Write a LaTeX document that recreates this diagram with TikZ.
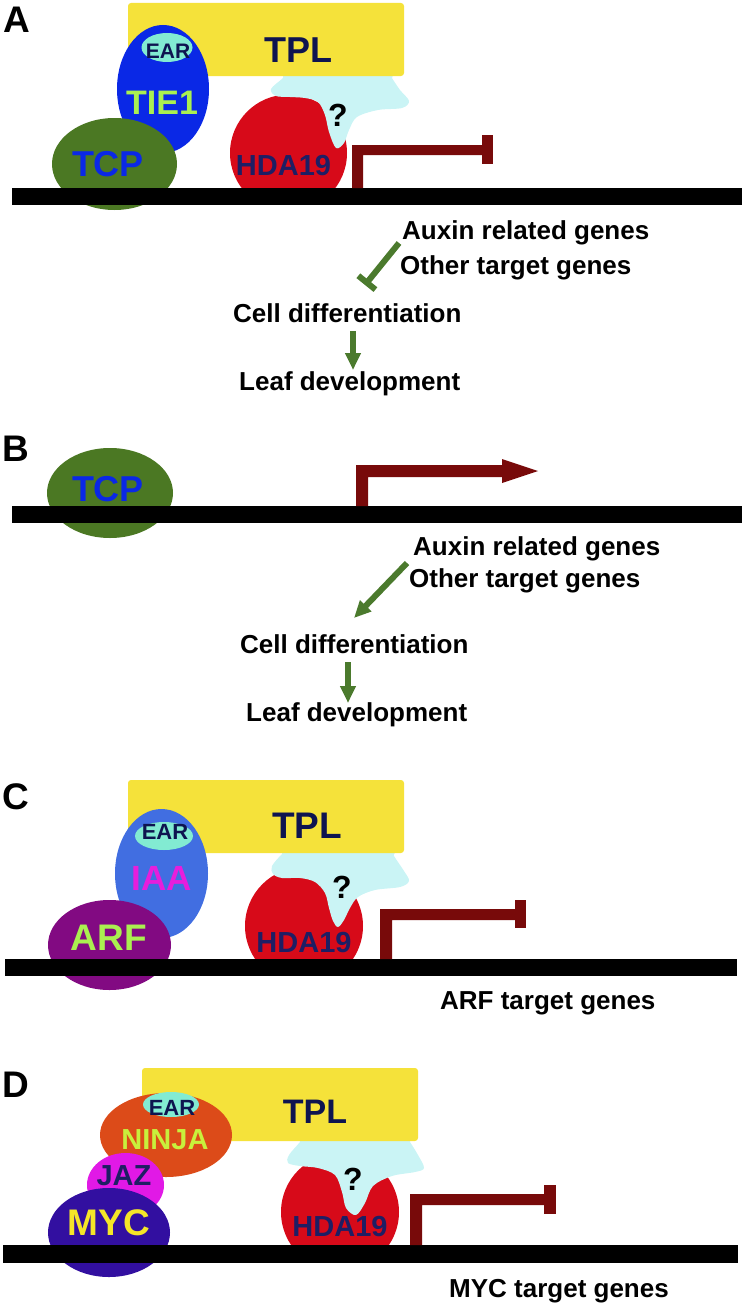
\documentclass[tikz,border=0pt]{standalone}
\usepackage{fontspec}
\setmainfont{Liberation Sans}
\usetikzlibrary{arrows.meta}
\definecolor{tplY}{HTML}{F5E23A}
\definecolor{tieB}{HTML}{0A28E6}
\definecolor{earC}{HTML}{82EBD2}
\definecolor{navyT}{HTML}{0E1450}
\definecolor{limeT}{HTML}{AAF050}
\definecolor{tcpG}{HTML}{4B7823}
\definecolor{hdaR}{HTML}{D70A19}
\definecolor{hdaT}{HTML}{1E1E64}
\definecolor{blobC}{HTML}{CAF4F5}
\definecolor{promR}{HTML}{780A0A}
\definecolor{arrowG}{HTML}{4B7A2D}
\definecolor{iaaB}{HTML}{416EE1}
\definecolor{iaaT}{HTML}{E61EDC}
\definecolor{arfP}{HTML}{820A82}
\definecolor{ninO}{HTML}{DC4B19}
\definecolor{ninT}{HTML}{C8F03C}
\definecolor{jazM}{HTML}{E119E6}
\definecolor{mycI}{HTML}{320FA0}
\definecolor{mycT}{HTML}{F5E628}
\begin{document}
\begin{tikzpicture}[x=1pt,y=-1pt,
  lbl/.style={inner sep=0pt, anchor=base west, font=\bfseries\fontsize{26}{30}\selectfont},
  ptxt/.style={inner sep=0pt, anchor=center, font=\bfseries\fontsize{#1}{#1}\selectfont},
  panel/.style={inner sep=0pt, anchor=center, font=\bfseries\fontsize{37}{37}\selectfont},
  inhib/.style={draw=arrowG, line width=6pt, -{Bar[width=22pt]}},
  act/.style={draw=arrowG, line width=6pt, -{Triangle[width=15pt,length=17pt]}},
  dna/.style={fill=black},
  prom/.style={fill=promR},
  tplbox/.style={fill=tplY, rounded corners=3pt},
]
\useasboundingbox (0,0) rectangle (747,1306);

% ================= Panel A =================
\node[panel] (labA) at (17,20) {A};
\begin{scope}
  \clip (0,0) rectangle (747,188);
  \fill[hdaR] (288.5,153) circle [radius=58.5pt];
\end{scope}
\fill[blobC] plot[smooth cycle, tension=0.55] coordinates {(290,70) (283,78) (271,89) (276,96) (290,97) (305,98) (318,102) (325,115) (329,132) (336,148) (344,143) (349,130) (357,117) (378,110) (402,108) (409,101) (400,90) (392,78) (388,70)};
\fill[tplbox] (128,3) rectangle (404,76);
\fill[tieB] (163,89) ellipse [x radius=46pt, y radius=64pt];
\fill[earC] (167,47.5) ellipse [x radius=25.5pt, y radius=14.5pt];
\fill[tcpG] (114.5,164) ellipse [x radius=62.5pt, y radius=46pt];
\fill[dna] (12,188) rectangle (742,205);
\fill[prom] (352,188) -- (352,145) -- (482,145) -- (482,155) -- (363,155) -- (363,188) -- cycle;
\fill[prom] (482,135) rectangle (493,164);
\node[ptxt=36, text=navyT] (tplA) at (298,50) {TPL};
\node[ptxt=21, text=navyT] (earA) at (168,51) {EAR};
\node[ptxt=34, text=limeT] (tieA) at (162,102.5) {TIE1};
\node[ptxt=36, text=tieB] (tcpA) at (108,164) {TCP};
\node[ptxt=29, text=hdaT] (hdaA) at (283.5,166) {HDA19};
\node[ptxt=32, text=black] (qA) at (338,115.5) {?};
\node[lbl] (auxA) at (402,239) {Auxin related genes};
\node[lbl] (othA) at (400,274) {Other target genes};
\node[lbl] (celA) at (233,322) {Cell differentiation};
\node[lbl] (leafA) at (239,390) {Leaf development};
\coordinate (iAs) at (399,243);
\coordinate (iAe) at (365,285);
\draw[inhib] (iAs) -- (iAe);
\coordinate (aAs) at (353,331);
\coordinate (aAe) at (353,370);
\draw[act] (aAs) -- (aAe);

% ================= Panel B =================
\node[panel] (labB) at (16,449) {B};
\fill[tcpG] (110,493) ellipse [x radius=63pt, y radius=45pt];
\fill[dna] (12,506) rectangle (742,523);
\fill[prom] (356,506) -- (356,465) -- (503,465) -- (503,477) -- (368,477) -- (368,506) -- cycle;
\fill[prom] (502,459) -- (538,471) -- (502,483) -- cycle;
\node[ptxt=36, text=tieB] (tcpB) at (108,489.5) {TCP};
\node[lbl] (auxB) at (413,555) {Auxin related genes};
\node[lbl] (othB) at (409,587) {Other target genes};
\node[lbl] (celB) at (240,653) {Cell differentiation};
\node[lbl] (leafB) at (246,721) {Leaf development};
\coordinate (bBs) at (407,563);
\coordinate (bBe) at (354,618);
\draw[act] (bBs) -- (bBe);
\coordinate (aBs) at (348,662);
\coordinate (aBe) at (348,703);
\draw[act] (aBs) -- (aBe);

% ================= Panel C =================
\node[panel] (labC) at (16,797) {C};
\begin{scope}
  \clip (0,700) rectangle (747,959);
  \fill[hdaR] (304,926) circle [radius=59pt];
\end{scope}
\fill[blobC] plot[smooth cycle, tension=0.55] coordinates {(290,847) (282,854) (272,866) (273,874) (282,878) (300,878) (315,882) (325,893) (329,908) (333,921) (338,927) (344,920) (350,908) (358,897) (375,890) (400,887) (409,881) (404,871) (394,856) (390,847)};
\fill[tplbox] (128,780) rectangle (404,853);
\fill[iaaB] (161.5,873.5) ellipse [x radius=46.5pt, y radius=64.5pt];
\fill[earC] (164,836) ellipse [x radius=29pt, y radius=14pt];
\fill[arfP] (109.5,945) ellipse [x radius=61.5pt, y radius=45pt];
\fill[dna] (5,959) rectangle (737,976);
\fill[prom] (380,959) -- (380,909) -- (515,909) -- (515,920) -- (392,920) -- (392,959) -- cycle;
\fill[prom] (515,900) rectangle (526,928);
\node[ptxt=37, text=navyT] (tplC) at (307,826) {TPL};
\node[ptxt=22, text=navyT] (earC) at (165,832) {EAR};
\node[ptxt=35, text=iaaT] (iaaC) at (162,878) {IAA};
\node[ptxt=37, text=limeT] (arfC) at (109,938) {ARF};
\node[ptxt=29, text=hdaT] (hdaC) at (304,943) {HDA19};
\node[ptxt=32, text=black] (qC) at (342,887) {?};
\node[lbl] (tgtC) at (440,1009) {ARF target genes};

% ================= Panel D =================
\node[panel] (labD) at (16,1085) {D};
\begin{scope}
  \clip (0,1000) rectangle (747,1245);
  \fill[hdaR] (340,1212) circle [radius=59pt];
\end{scope}
\fill[blobC] plot[smooth cycle, tension=0.55] coordinates {(305,1135) (300,1142) (289,1155) (288,1163) (300,1166) (318,1168) (335,1175) (342,1192) (346,1208) (356,1215) (365,1203) (373,1186) (392,1176) (415,1172) (424,1168) (418,1155) (410,1142) (405,1135)};
\fill[tplbox] (142,1068) rectangle (418,1141);
\fill[ninO] (166,1135) ellipse [x radius=66pt, y radius=42pt];
\fill[earC] (171,1104.5) ellipse [x radius=28pt, y radius=12.5pt];
\fill[jazM] (125.5,1185) ellipse [x radius=38.5pt, y radius=32pt];
\fill[mycI] (109,1232.5) ellipse [x radius=61pt, y radius=44.5pt];
\fill[dna] (3,1245) rectangle (738,1263);
\fill[prom] (410,1245) -- (410,1194) -- (544,1194) -- (544,1205) -- (422,1205) -- (422,1245) -- cycle;
\fill[prom] (544,1185) rectangle (556,1214);
\node[ptxt=34, text=navyT] (tplD) at (315,1112) {TPL};
\node[ptxt=22, text=navyT] (earD) at (172,1108) {EAR};
\node[ptxt=29, text=ninT] (ninD) at (165,1140) {NINJA};
\node[ptxt=29, text=hdaT] (jazD) at (124,1176) {JAZ};
\node[ptxt=37, text=mycT] (mycD) at (109,1223) {MYC};
\node[ptxt=29, text=hdaT] (hdaD) at (340,1227) {HDA19};
\node[ptxt=32, text=black] (qD) at (353,1179) {?};
\node[lbl] (tgtD) at (449,1297) {MYC target genes};
\end{tikzpicture}
\end{document}
